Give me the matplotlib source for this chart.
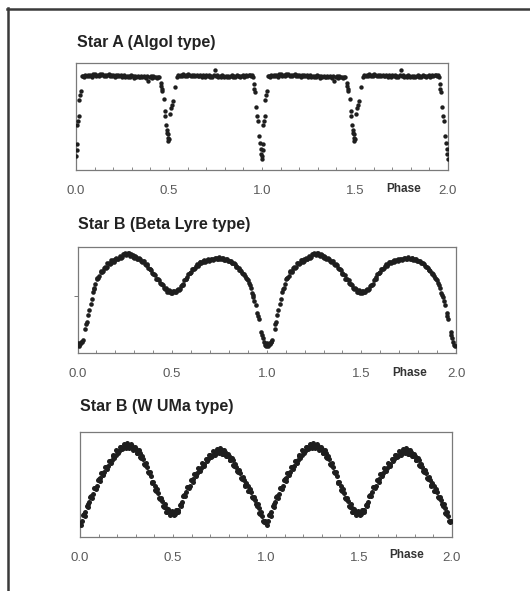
import matplotlib
matplotlib.use("Agg")
import matplotlib.pyplot as plt
from matplotlib.lines import Line2D
from matplotlib.ticker import MultipleLocator

plt.rcParams['font.family'] = ['Liberation Sans', 'DejaVu Sans']

W, H = 530, 591

# ---- Star A (Algol), one cycle, folded; plotted at phase and phase + 1
algol_phase = [
    0.001, 0.003, 0.006, 0.008, 0.011, 0.014, 0.018, 0.022, 0.026,
    0.032, 0.038, 0.045, 0.051, 0.058, 0.064, 0.071, 0.077, 0.084, 0.090,
    0.097, 0.103, 0.110, 0.116, 0.123, 0.129, 0.136, 0.142, 0.149, 0.155,
    0.162, 0.168, 0.175, 0.181, 0.188, 0.194, 0.201, 0.207, 0.214, 0.220,
    0.227, 0.233, 0.240, 0.246, 0.253, 0.259, 0.266, 0.272, 0.279, 0.285,
    0.292, 0.298, 0.305, 0.311, 0.318, 0.324, 0.331, 0.337, 0.344, 0.350,
    0.357, 0.363, 0.370, 0.376, 0.383, 0.389, 0.396, 0.402, 0.409, 0.415,
    0.422, 0.428, 0.435, 0.441, 0.447,
    0.458, 0.459, 0.460, 0.461, 0.472, 0.477, 0.481, 0.485, 0.489, 0.491,
    0.493, 0.494, 0.496, 0.498, 0.508, 0.512, 0.516, 0.519, 0.530,
    0.545, 0.551, 0.558, 0.564, 0.571, 0.577, 0.584, 0.590, 0.597, 0.603,
    0.610, 0.616, 0.623, 0.629, 0.636, 0.642, 0.649, 0.655, 0.662, 0.668,
    0.675, 0.681, 0.688, 0.694, 0.701, 0.707, 0.714, 0.720, 0.727, 0.733,
    0.740, 0.746, 0.753, 0.759, 0.766, 0.772, 0.779, 0.785, 0.792, 0.798,
    0.805, 0.811, 0.818, 0.824, 0.831, 0.837, 0.844, 0.850, 0.857, 0.863,
    0.870, 0.876, 0.883, 0.889, 0.896, 0.902, 0.909, 0.915, 0.922, 0.928,
    0.935, 0.941, 0.948, 0.953,
    0.957, 0.959, 0.961, 0.968, 0.975, 0.981, 0.985, 0.988, 0.992, 0.995,
    0.999,
]
algol_flux = [
    0.13, 0.18, 0.24, 0.42, 0.46, 0.50, 0.655, 0.70, 0.74,
    0.875, 0.882, 0.870, 0.886, 0.878, 0.891, 0.880, 0.889, 0.873, 0.893,
    0.884, 0.896, 0.881, 0.890, 0.877, 0.894, 0.885, 0.899, 0.882, 0.891,
    0.879, 0.888, 0.895, 0.876, 0.887, 0.880, 0.892, 0.871, 0.884, 0.878,
    0.889, 0.874, 0.883, 0.868, 0.880, 0.887, 0.872, 0.881, 0.866, 0.879,
    0.870, 0.884, 0.875, 0.862, 0.878, 0.869, 0.881, 0.872, 0.864, 0.877,
    0.868, 0.880, 0.871, 0.862, 0.876, 0.835, 0.866, 0.874, 0.861, 0.879,
    0.868, 0.873, 0.859, 0.870, 0.865,
    0.81, 0.78, 0.76, 0.74, 0.66, 0.55, 0.50, 0.42, 0.37, 0.34,
    0.30, 0.33, 0.27, 0.29, 0.52, 0.58, 0.61, 0.64, 0.77,
    0.872, 0.884, 0.878, 0.889, 0.881, 0.893, 0.876, 0.887, 0.880, 0.894,
    0.883, 0.877, 0.891, 0.879, 0.886, 0.874, 0.889, 0.882, 0.876, 0.890,
    0.871, 0.885, 0.879, 0.868, 0.883, 0.877, 0.888, 0.873, 0.881, 0.869,
    0.886, 0.930, 0.875, 0.884, 0.866, 0.879, 0.872, 0.887, 0.874, 0.868,
    0.882, 0.870, 0.879, 0.864, 0.876, 0.884, 0.869, 0.877, 0.872, 0.885,
    0.874, 0.881, 0.867, 0.878, 0.886, 0.872, 0.880, 0.889, 0.875, 0.884,
    0.891, 0.878, 0.886, 0.872,
    0.80, 0.76, 0.73, 0.59, 0.50, 0.455, 0.31, 0.245, 0.195, 0.15,
    0.10,
]

# ---- Star B (Beta Lyrae), two sets of observations
blyr_phase = [
    0.000, 0.008, 0.021, 0.029, 0.041, 0.049, 0.061, 0.069, 0.082, 0.089,
    0.101, 0.109, 0.122, 0.131, 0.139, 0.151, 0.158, 0.171, 0.179, 0.192,
    0.199, 0.211, 0.222, 0.229, 0.241, 0.251, 0.258, 0.271, 0.279, 0.291,
    0.301, 0.309, 0.322, 0.329, 0.341, 0.349, 0.362, 0.369, 0.381, 0.391,
    0.399, 0.411, 0.419, 0.432, 0.439, 0.451, 0.461, 0.469, 0.481, 0.489,
    0.501, 0.509, 0.521, 0.531, 0.539, 0.551, 0.559, 0.571, 0.579, 0.592,
    0.601, 0.609, 0.621, 0.629, 0.641, 0.649, 0.661, 0.671, 0.679, 0.691,
    0.699, 0.711, 0.719, 0.731, 0.741, 0.749, 0.761, 0.769, 0.781, 0.789,
    0.801, 0.811, 0.819, 0.831, 0.839, 0.851, 0.859, 0.871, 0.881, 0.889,
    0.901, 0.909, 0.921, 0.929, 0.941, 0.951, 0.959, 0.971, 0.979, 0.991,
]
blyr_flux = [
    0.09, 0.065, 0.10, 0.12, 0.225, 0.29, 0.41, 0.46, 0.58, 0.61,
    0.70, 0.71, 0.765, 0.765, 0.80, 0.805, 0.845, 0.84, 0.875, 0.86,
    0.89, 0.885, 0.915, 0.90, 0.93, 0.945, 0.925, 0.94, 0.915, 0.925,
    0.90, 0.91, 0.885, 0.89, 0.86, 0.865, 0.83, 0.83, 0.79, 0.785,
    0.745, 0.735, 0.695, 0.685, 0.655, 0.64, 0.60, 0.60, 0.575, 0.585,
    0.565, 0.585, 0.58, 0.605, 0.605, 0.645, 0.655, 0.70, 0.715, 0.755,
    0.765, 0.795, 0.805, 0.835, 0.835, 0.86, 0.855, 0.875, 0.865, 0.885,
    0.875, 0.89, 0.885, 0.90, 0.89, 0.905, 0.89, 0.90, 0.875, 0.885,
    0.865, 0.87, 0.845, 0.84, 0.815, 0.805, 0.785, 0.755, 0.745, 0.71,
    0.685, 0.645, 0.57, 0.53, 0.45, 0.38, 0.32, 0.20, 0.14, 0.08,
]
blyr_phase_b = [
    0.004, 0.015, 0.025, 0.045, 0.055, 0.075, 0.085, 0.095, 0.105, 0.115,
    0.125, 0.135, 0.145, 0.155, 0.165, 0.175, 0.185, 0.195, 0.205, 0.215,
    0.225, 0.235, 0.245, 0.255, 0.265, 0.275, 0.285, 0.295, 0.305, 0.315,
    0.325, 0.335, 0.345, 0.355, 0.365, 0.375, 0.385, 0.395, 0.405, 0.415,
    0.425, 0.435, 0.445, 0.455, 0.465, 0.475, 0.485, 0.495, 0.505, 0.515,
    0.525, 0.535, 0.545, 0.555, 0.565, 0.575, 0.585, 0.595, 0.605, 0.615,
    0.625, 0.635, 0.645, 0.655, 0.665, 0.675, 0.685, 0.695, 0.705, 0.715,
    0.725, 0.735, 0.745, 0.755, 0.765, 0.775, 0.785, 0.795, 0.805, 0.815,
    0.825, 0.835, 0.845, 0.855, 0.865, 0.875, 0.885, 0.895, 0.905, 0.915,
    0.925, 0.935, 0.955, 0.975, 0.985, 0.995,
]
blyr_flux_b = [
    0.075, 0.085, 0.105, 0.27, 0.36, 0.51, 0.60, 0.655, 0.71, 0.725,
    0.77, 0.775, 0.81, 0.815, 0.85, 0.85, 0.875, 0.87, 0.895, 0.89,
    0.91, 0.91, 0.935, 0.93, 0.945, 0.92, 0.93, 0.905, 0.915, 0.89,
    0.895, 0.87, 0.87, 0.84, 0.84, 0.80, 0.795, 0.755, 0.745, 0.70,
    0.70, 0.66, 0.655, 0.615, 0.61, 0.58, 0.59, 0.57, 0.582, 0.572,
    0.598, 0.596, 0.63, 0.64, 0.685, 0.70, 0.745, 0.755, 0.79, 0.795,
    0.825, 0.825, 0.855, 0.85, 0.87, 0.86, 0.88, 0.87, 0.89, 0.88,
    0.90, 0.885, 0.90, 0.89, 0.90, 0.88, 0.89, 0.87, 0.87, 0.85,
    0.85, 0.82, 0.815, 0.785, 0.775, 0.745, 0.73, 0.70, 0.66, 0.615,
    0.55, 0.49, 0.35, 0.17, 0.10, 0.07,
]

# ---- Star B (W UMa), two sets of observations
wuma_phase = [
    0.000, 0.009, 0.021, 0.029, 0.041, 0.049, 0.061, 0.069, 0.081, 0.089,
    0.101, 0.109, 0.121, 0.131, 0.139, 0.151, 0.159, 0.171, 0.179, 0.191,
    0.199, 0.211, 0.221, 0.229, 0.241, 0.251, 0.259, 0.271, 0.279, 0.291,
    0.301, 0.309, 0.321, 0.329, 0.341, 0.349, 0.361, 0.369, 0.381, 0.389,
    0.401, 0.409, 0.421, 0.429, 0.441, 0.449, 0.461, 0.469, 0.481, 0.489,
    0.501, 0.509, 0.521, 0.529, 0.541, 0.549, 0.561, 0.569, 0.581, 0.589,
    0.601, 0.609, 0.621, 0.629, 0.641, 0.649, 0.661, 0.669, 0.681, 0.689,
    0.701, 0.709, 0.721, 0.729, 0.741, 0.749, 0.761, 0.769, 0.781, 0.789,
    0.801, 0.809, 0.821, 0.829, 0.841, 0.849, 0.861, 0.869, 0.881, 0.889,
    0.901, 0.909, 0.921, 0.929, 0.941, 0.949, 0.961, 0.969, 0.981, 0.989,
]
wuma_flux = [
    0.13, 0.15, 0.22, 0.24, 0.31, 0.33, 0.39, 0.41, 0.47, 0.49,
    0.555, 0.56, 0.61, 0.62, 0.67, 0.68, 0.725, 0.735, 0.775, 0.78,
    0.82, 0.82, 0.855, 0.85, 0.88, 0.86, 0.88, 0.855, 0.865, 0.835,
    0.84, 0.80, 0.80, 0.755, 0.745, 0.69, 0.67, 0.61, 0.58, 0.51,
    0.49, 0.44, 0.42, 0.36, 0.34, 0.29, 0.28, 0.24, 0.245, 0.215,
    0.235, 0.22, 0.255, 0.255, 0.31, 0.33, 0.40, 0.425, 0.48, 0.49,
    0.54, 0.55, 0.60, 0.605, 0.65, 0.655, 0.70, 0.70, 0.74, 0.74,
    0.78, 0.775, 0.81, 0.80, 0.83, 0.81, 0.825, 0.795, 0.805, 0.77,
    0.775, 0.735, 0.73, 0.68, 0.67, 0.62, 0.605, 0.555, 0.545, 0.49,
    0.485, 0.435, 0.425, 0.37, 0.355, 0.30, 0.28, 0.22, 0.20, 0.145,
]
wuma_phase_b = [
    0.005, 0.015, 0.025, 0.035, 0.045, 0.055, 0.065, 0.075, 0.085, 0.095,
    0.105, 0.115, 0.125, 0.135, 0.145, 0.155, 0.165, 0.175, 0.185, 0.195,
    0.205, 0.215, 0.225, 0.235, 0.245, 0.255, 0.265, 0.275, 0.285, 0.295,
    0.305, 0.315, 0.325, 0.335, 0.345, 0.355, 0.365, 0.375, 0.385, 0.395,
    0.405, 0.415, 0.425, 0.435, 0.445, 0.455, 0.465, 0.475, 0.485, 0.495,
    0.505, 0.515, 0.525, 0.535, 0.545, 0.555, 0.565, 0.575, 0.585, 0.595,
    0.605, 0.615, 0.625, 0.635, 0.645, 0.655, 0.665, 0.675, 0.685, 0.695,
    0.705, 0.715, 0.725, 0.735, 0.745, 0.755, 0.765, 0.775, 0.785, 0.795,
    0.805, 0.815, 0.825, 0.835, 0.845, 0.855, 0.865, 0.875, 0.885, 0.895,
    0.905, 0.915, 0.925, 0.935, 0.945, 0.955, 0.965, 0.975, 0.985, 0.995,
]
wuma_flux_b = [
    0.11, 0.21, 0.20, 0.30, 0.29, 0.385, 0.37, 0.465, 0.455, 0.545,
    0.53, 0.61, 0.59, 0.67, 0.65, 0.725, 0.705, 0.78, 0.755, 0.825,
    0.80, 0.86, 0.835, 0.89, 0.85, 0.895, 0.85, 0.885, 0.83, 0.86,
    0.80, 0.825, 0.76, 0.775, 0.70, 0.705, 0.62, 0.62, 0.525, 0.525,
    0.445, 0.455, 0.37, 0.375, 0.295, 0.31, 0.24, 0.265, 0.21, 0.245,
    0.205, 0.26, 0.235, 0.305, 0.30, 0.39, 0.39, 0.475, 0.465, 0.54,
    0.525, 0.60, 0.58, 0.655, 0.63, 0.705, 0.68, 0.745, 0.72, 0.785,
    0.76, 0.815, 0.785, 0.84, 0.80, 0.845, 0.79, 0.825, 0.77, 0.795,
    0.735, 0.755, 0.685, 0.70, 0.625, 0.635, 0.56, 0.575, 0.50, 0.515,
    0.44, 0.455, 0.38, 0.385, 0.31, 0.315, 0.23, 0.235, 0.15, 0.155,
]

xtick_vals = [0.0, 0.5, 1.0, 1.5, 2.0]
xtick_text = ['0.0', '0.5', '1.0', '1.5', '2.0']


def rect(l, t, r, b):
    return [l / W, 1 - b / H, (r - l) / W, (b - t) / H]


def panel(box, title, tx, ty, phase, flux, px, py, ytick=None, size=9):
    ax = fig.add_axes(rect(*box))
    for cyc in (0, 1):
        ax.scatter([p + cyc for p in phase], flux, s=size, c='#1e1e1e',
                   linewidths=0, zorder=3)
    ax.set_xlim(0, 2)
    ax.set_ylim(0, 1)
    ax.set_xticks(xtick_vals)
    ax.set_xticklabels(xtick_text)
    ax.xaxis.set_minor_locator(MultipleLocator(0.1))
    ax.tick_params(axis='x', which='both', direction='in', length=2.5,
                   width=0.7, color='#888888', labelsize=9.5,
                   labelcolor='#5a5a5a', pad=11)
    if ytick is None:
        ax.set_yticks([])
    else:
        ax.set_yticks([ytick])
        ax.set_yticklabels([''])
        ax.tick_params(axis='y', direction='out', length=3, width=0.7,
                       color='#777777')
    for sp in ax.spines.values():
        sp.set_color('#7a7a7a')
        sp.set_linewidth(0.9)
    fig.text(tx / W, 1 - ty / H, title, fontsize=11.5, fontweight='bold',
             color='#222222', ha='left', va='center')
    fig.text(px / W, 1 - py / H, 'Phase', fontsize=8.5, fontweight='bold',
             color='#333333', ha='center', va='center')
    return ax


fig = plt.figure(figsize=(W / 100, H / 100), dpi=100)
fig.patch.set_facecolor('white')

panel((76, 63, 448, 169.5), 'Star A (Algol type)', 77, 42,
      algol_phase, algol_flux, 404, 189, size=10)
panel((77.5, 247, 456, 353), 'Star B (Beta Lyre type)', 78.5, 225,
      blyr_phase + blyr_phase_b, blyr_flux + blyr_flux_b, 410, 373,
      ytick=0.54, size=11)
panel((80, 432, 452, 537), 'Star B (W UMa type)', 80, 407,
      wuma_phase + wuma_phase_b, wuma_flux + wuma_flux_b, 407, 555.5,
      size=13)

# outer frame (top and left edges only)
fig.add_artist(Line2D([7 / W, 1.0], [1 - 9 / H, 1 - 9 / H], lw=1.8,
                      color='#3a3a3a', transform=fig.transFigure))
fig.add_artist(Line2D([8 / W, 8 / W], [1 - 8 / H, 0.0], lw=1.8,
                      color='#3a3a3a', transform=fig.transFigure))

fig.savefig('out.png', dpi=100)
